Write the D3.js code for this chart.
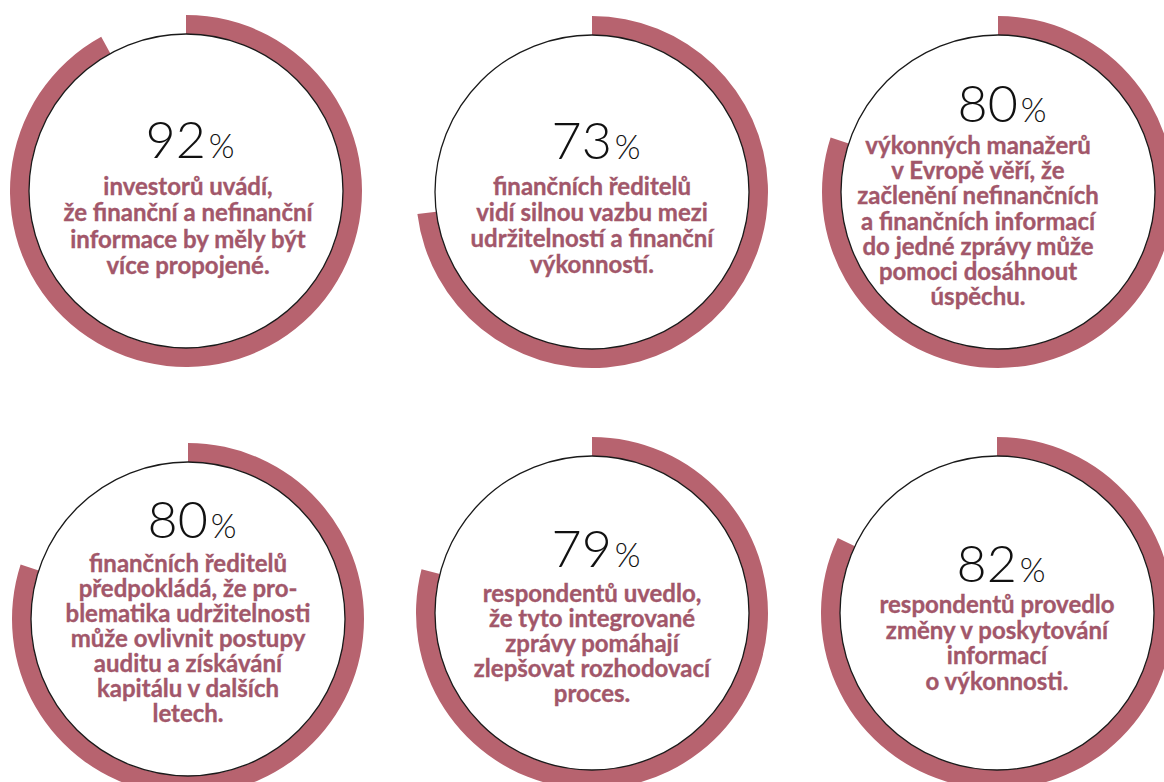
<!DOCTYPE html>
<html lang="cs">
<head>
<meta charset="utf-8">
<script src="https://cdn.jsdelivr.net/npm/d3@7"></script>
<style>
  html, body { margin: 0; padding: 0; background: #ffffff; }
  svg { display: block; }
</style>
</head>
<body>
<svg id="chart" width="1164" height="782"></svg>
<script>
// Survey results: share of respondents (percent)
const values = [92, 73, 80, 80, 79, 82];

// Caption lines under each percentage
const captions = [
  ["investorů uvádí,", "že finanční a nefinanční", "informace by měly být", "více propojené."],
  ["finančních ředitelů", "vidí silnou vazbu mezi", "udržitelností a finanční", "výkonností."],
  ["výkonných manažerů", "v Evropě věří, že", "začlenění nefinančních", "a finančních informací", "do jedné zprávy může", "pomoci dosáhnout", "úspěchu."],
  ["finančních ředitelů", "předpokládá, že pro-", "blematika udržitelnosti", "může ovlivnit postupy", "auditu a získávání", "kapitálu v dalších", "letech."],
  ["respondentů uvedlo,", "že tyto integrované", "zprávy pomáhají", "zlepšovat rozhodovací", "proces."],
  ["respondentů provedlo", "změny v poskytování", "informací", "o výkonnosti."]
];

// Placement of each ring and its text block
const layout = [
  { cx: 186, cy: 191, numY: -33, textY: 4,   lineH: 26.3, dx: 2 },
  { cx: 592, cy: 192, numY: -33, textY: 3,   lineH: 26,   dx: 0 },
  { cx: 998, cy: 192, numY: -70, textY: -38, lineH: 25.2, dx: -20 },
  { cx: 188, cy: 619, numY: -81, textY: -47, lineH: 25,   dx: 0 },
  { cx: 592, cy: 613, numY: -46, textY: -11, lineH: 25,   dx: 0 },
  { cx: 997, cy: 613, numY: -31, textY: 0,   lineH: 25.7, dx: 0 }
];

const ringColor = "#b7636f";
const textColor = "#a2576a";
const innerR = 157, outerR = 176;

const svg = d3.select("#chart");

// value (0–100) -> angle, clockwise from 12 o'clock
const angle = d3.scaleLinear().domain([0, 100]).range([0, 2 * Math.PI]);
const arc = d3.arc().innerRadius(innerR).outerRadius(outerR).startAngle(0);

const cards = svg.selectAll("g.card")
  .data(values.map((v, i) => ({ value: v, lines: captions[i], pos: layout[i] })))
  .join("g")
  .attr("class", "card")
  .attr("transform", d => `translate(${d.pos.cx},${d.pos.cy})`);

cards.append("path")
  .attr("d", d => arc({ endAngle: angle(d.value) }))
  .attr("fill", ringColor);

cards.append("circle")
  .attr("r", innerR)
  .attr("fill", "none")
  .attr("stroke", "#1a1a1a")
  .attr("stroke-width", 1.3);

const num = cards.append("text")
  .attr("x", 4)
  .attr("y", d => d.pos.numY)
  .attr("text-anchor", "middle")
  .attr("font-family", "Lato, 'Open Sans', sans-serif")
  .attr("font-weight", 300)
  .attr("fill", "#111");
num.append("tspan").attr("font-size", 52).text(d => d.value);
num.append("tspan").attr("font-size", 33).attr("dx", 3).text("%");

cards.append("text")
  .attr("text-anchor", "middle")
  .attr("font-family", "Lato, 'Open Sans', sans-serif")
  .attr("font-weight", 700)
  .attr("font-size", 24)
  .attr("fill", textColor)
  .attr("stroke", textColor)
  .attr("stroke-width", 0.35)
  .selectAll("tspan")
  .data(d => d.lines.map((t, j) => ({ t, j, pos: d.pos })))
  .join("tspan")
  .attr("x", d => d.pos.dx)
  .attr("y", d => d.pos.textY + d.j * d.pos.lineH)
  .text(d => d.t);
</script>
</body>
</html>
